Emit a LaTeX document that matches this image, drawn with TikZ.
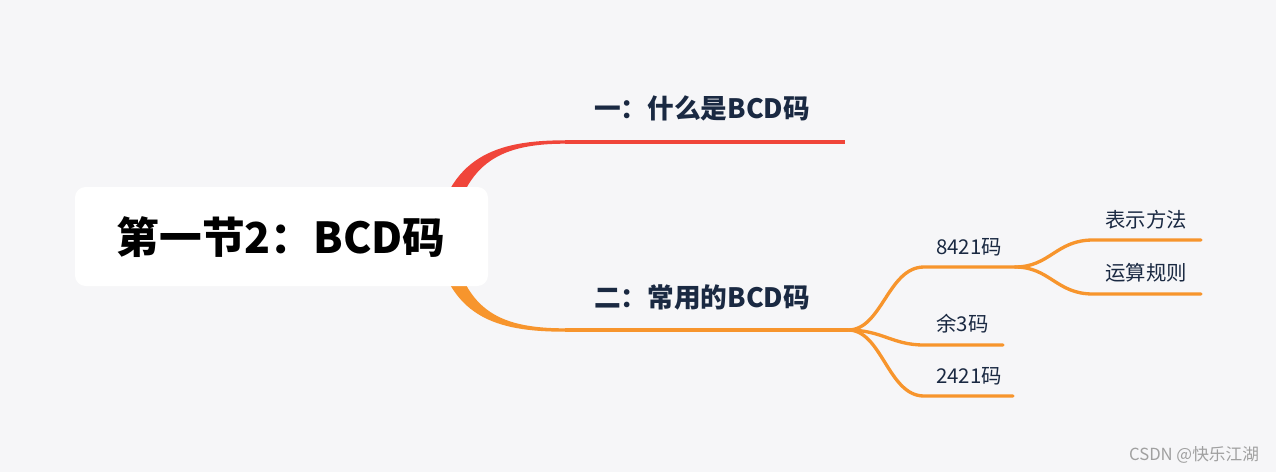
\documentclass[tikz,border=0pt]{standalone}
\usepackage{fontspec}
\setmainfont{Noto Sans CJK SC}
\usetikzlibrary{calc}
\definecolor{bgc}{RGB}{246,246,248}
\definecolor{redc}{RGB}{240,69,58}
\definecolor{orac}{RGB}{247,149,45}
\definecolor{navy}{RGB}{26,41,66}
\definecolor{markc}{RGB}{160,160,160}
\begin{document}
\begin{tikzpicture}[x=0.75pt,y=0.75pt,yscale=-1,xscale=1,
  branch/.style={font=\bfseries\fontsize{20}{24}\selectfont, text=navy, anchor=west, inner sep=0},
  leaf/.style={font=\fontsize{15.3}{18}\selectfont, text=navy, anchor=west, inner sep=0},
  twig/.style={draw=orac, line width=2.5pt, line cap=round},
  ]
%background, fixes the size of the picture
\fill [bgc] (0,0) rectangle (1276,472);

%branch points
\coordinate (rt) at (442,237);
\coordinate (a1) at (565,142);
\coordinate (a1e) at (845,142);
\coordinate (a2) at (565,330);
\coordinate (a2e) at (848,330);
\coordinate (c1) at (924,267);
\coordinate (c1e) at (1015,267);
\coordinate (c2) at (924,345);
\coordinate (c2e) at (1003,345);
\coordinate (c3) at (924,396);
\coordinate (c3e) at (1013,396);
\coordinate (d1) at (1093,240);
\coordinate (d1e) at (1201,240);
\coordinate (d2) at (1093,294);
\coordinate (d2e) at (1201,294);

%main branches
\fill [redc] ($(rt)+(-8,0)$) .. controls (448,157) and (495,140.3) .. ($(a1)+(0,-1.7)$) -- ($(a1)+(0,1.7)$) .. controls (495,143.7) and (464,166) .. ($(rt)+(8,0)$) -- cycle;
\draw [redc, line width=2.5pt] (a1) -- (a1e);
\fill [orac] ($(rt)+(-8,0)$) .. controls (448,317) and (495,331.7) .. ($(a2)+(0,1.7)$) -- ($(a2)+(0,-1.7)$) .. controls (495,328.3) and (464,308) .. ($(rt)+(8,0)$) -- cycle;
\draw [orac, line width=2.5pt] (a2) -- (a2e);

%sub branches
\draw [twig] (a2e) .. controls (882,330) and (888,267) .. (c1) -- (c1e);
\draw [twig] (a2e) .. controls (882,330) and (892,345) .. (c2) -- (c2e);
\draw [twig] (a2e) .. controls (882,330) and (888,396) .. (c3) -- (c3e);
\draw [twig] (c1e) .. controls (1050,267) and (1056,240) .. (d1) -- (d1e);
\draw [twig] (c1e) .. controls (1050,267) and (1056,294) .. (d2) -- (d2e);

%root
\draw [fill=white, draw=none, rounded corners=8] (75,187) rectangle (488,286);
\node (root) at (281,237) [font=\bfseries\fontsize{32}{38}\selectfont, text=black] {第一节2：BCD码};

\node (t1) at (594,108) [branch] {一：什么是BCD码};
\node (t2) at (594,297) [branch] {二：常用的BCD码};
\node (s1) at (936,247) [leaf] {8421码};
\node (s2) at (936,324) [leaf] {余3码};
\node (s3) at (936,376) [leaf] {2421码};
\node (u1) at (1105,220) [leaf] {表示方法};
\node (u2) at (1105,273) [leaf] {运算规则};

\node (mark) at (1194,455) [font=\fontsize{12.5}{14}\selectfont, text=markc] {CSDN @快乐江湖};

\end{tikzpicture}
\end{document}
